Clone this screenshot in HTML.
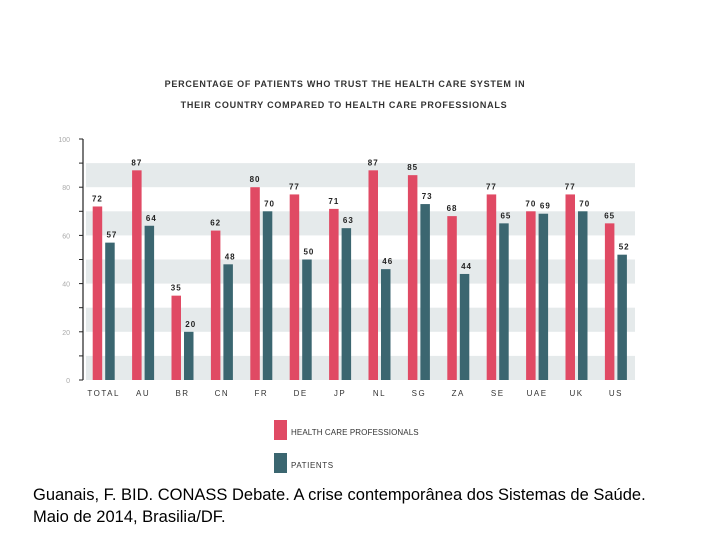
<!DOCTYPE html>
<html><head><meta charset="utf-8"><style>
body{margin:0;width:720px;height:540px;background:#fff;overflow:hidden;font-family:"Liberation Sans",sans-serif}
svg{position:absolute;left:0;top:0}
.cap{position:absolute;left:33px;top:484px;font-size:16.5px;line-height:22px;color:#000}
</style></head><body>
<svg width="720" height="540">
<text x="345" y="87" text-anchor="middle" font-size="9" font-weight="bold" letter-spacing="0.75" fill="#333">PERCENTAGE OF PATIENTS WHO TRUST THE HEALTH CARE SYSTEM IN</text>
<text x="344" y="108" text-anchor="middle" font-size="9" font-weight="bold" letter-spacing="0.75" fill="#333">THEIR COUNTRY COMPARED TO HEALTH CARE PROFESSIONALS</text>
<g id="bands"></g><g id="axis"></g><g id="bars"></g>
<rect x="274" y="420" width="13" height="20" fill="#e04a64"/>
<text x="291" y="435" font-size="8" letter-spacing="0.1" fill="#333">HEALTH CARE PROFESSIONALS</text>
<rect x="274" y="453" width="13" height="20" fill="#3b6670"/>
<text x="291" y="468" font-size="8" letter-spacing="0.6" fill="#333">PATIENTS</text>
</svg>
<div class="cap">Guanais, F. BID. CONASS Debate. A crise contemporânea dos Sistemas de Saúde.<br>Maio de 2014, Brasilia/DF.</div>
<script>
const categories=["TOTAL","AU","BR","CN","FR","DE","JP","NL","SG","ZA","SE","UAE","UK","US"];
const professionals=[72,87,35,62,80,77,71,87,85,68,77,70,77,65];
const patients=[57,64,20,48,70,50,63,46,73,44,65,69,70,52];
const yTicks=[0,20,40,60,80,100];
const NS="http://www.w3.org/2000/svg";
const y0=380,y100=139,x0=92.7,step=39.4,bw=9.5,gap=3;
const y=v=>y0-(y0-y100)*v/100;
const xc=i=>x0+step*i;
function mk(tag,attrs,parent){const e=document.createElementNS(NS,tag);for(const k in attrs)e.setAttribute(k,attrs[k]);document.getElementById(parent).appendChild(e);return e;}
for(let b=0;b<100;b+=20){
 const r=mk('rect',{x:86,y:y(b+10),width:549,height:y(b)-y(b+10),fill:'#e5eaeb'},'bands');
 
 
}
const ax=mk('line',{x1:83,x2:83,y1:y(100),y2:y(0),stroke:'#222','stroke-width':1.2},'axis');


for(let v=0;v<=100;v+=10){
 const t=mk('line',{x1:79,x2:83,y1:y(v),y2:y(v),stroke:'#222','stroke-width':1},'axis');
 
 
}
yTicks.forEach(v=>{
 const t=mk('text',{x:70,y:y(v)+3,'text-anchor':'end','font-size':7,fill:'#aaa'},'axis');
 t.textContent=v;
 
 
});
categories.forEach((c,i)=>{
 const xr=xc(i),xt=xr+bw+gap;
 const r=mk('rect',{x:xr,y:y(professionals[i]),width:bw,height:y0-y(professionals[i]),fill:'#e04a64'},'bars');
 
 
 const t=mk('rect',{x:xt,y:y(patients[i]),width:bw,height:y0-y(patients[i]),fill:'#3b6670'},'bars');
 
 
 const l1=mk('text',{x:xr+bw/2,y:y(professionals[i])-5,'text-anchor':'middle','font-size':8,'font-weight':'bold','letter-spacing':1,fill:'#222'},'bars');
 l1.textContent=professionals[i];
 
 
 const l2=mk('text',{x:xt+bw/2+2,y:y(patients[i])-5,'text-anchor':'middle','font-size':8,'font-weight':'bold','letter-spacing':1,fill:'#222'},'bars');
 l2.textContent=patients[i];
 
 
 const cl=mk('text',{x:xr+bw+gap/2,y:396,'text-anchor':'middle','font-size':8,'letter-spacing':1.5,fill:'#333'},'bars');
 cl.textContent=c;
 
 
});
</script>
</body></html>
